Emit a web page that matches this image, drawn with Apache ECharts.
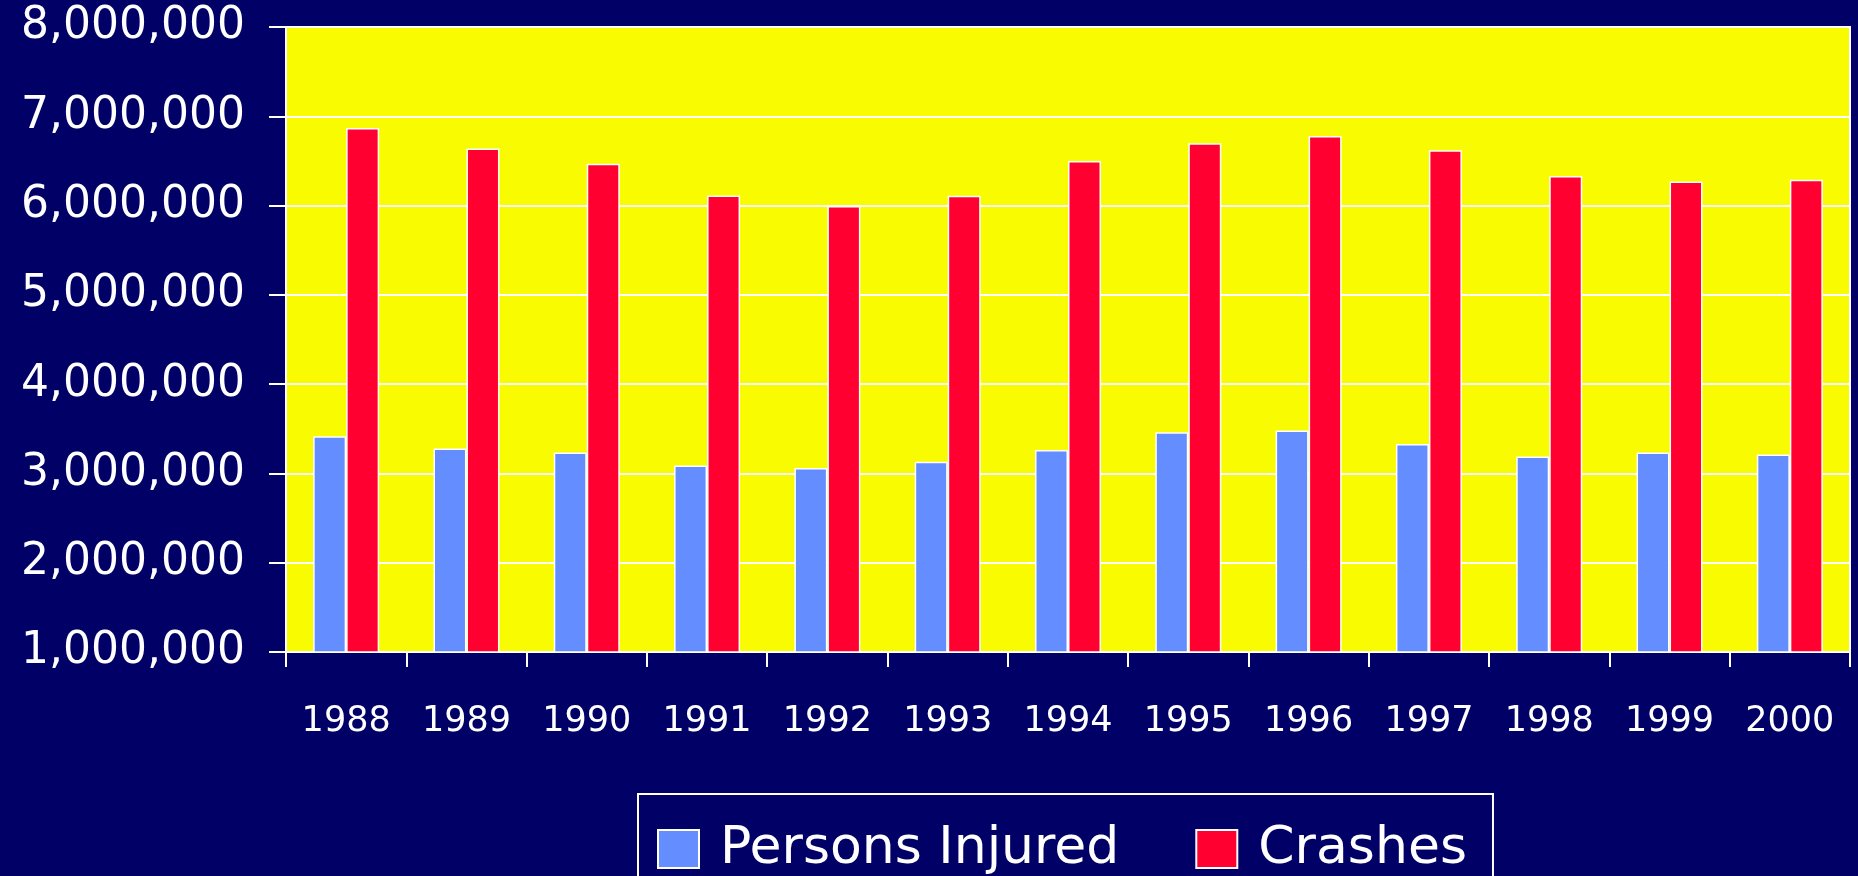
<!DOCTYPE html>
<html>
<head>
<meta charset="utf-8">
<title>Crashes and Persons Injured 1988-2000</title>
<script src="https://cdn.jsdelivr.net/npm/echarts@6/dist/echarts.min.js"></script>
<style>
    html, body { margin: 0; padding: 0; background: #000066; }
    #chart { width: 1858px; height: 876px; }
</style>
</head>
<body>
<div id="chart"></div>
<script>
// 年份
var years = ['1988', '1989', '1990', '1991', '1992', '1993', '1994', '1995', '1996', '1997', '1998', '1999', '2000'];
// 受伤人数
var injured = [3416000, 3280000, 3234000, 3088000, 3062000, 3130000, 3262000, 3462000, 3480000, 3330000, 3190000, 3234000, 3212000];
// 事故数
var crashes = [6868000, 6640000, 6468000, 6112000, 5995000, 6110000, 6498000, 6698000, 6778000, 6620000, 6330000, 6270000, 6290000];
var seriesNames = ['Persons Injured', 'Crashes'];
var yTicks = [1000000, 8000000, 1000000]; // min, max, interval

var font = 'DejaVu Sans';

function addCommas(v) {
    return String(v).replace(/\B(?=(\d{3})+(?!\d))/g, ',');
}

var chart = echarts.init(document.getElementById('chart'));

var option = {
    backgroundColor: '#000066',
    animation: false,
    grid: {
        left: 286,
        right: 8,
        top: 27,
        bottom: 224,
        show: true,
        backgroundColor: '#F9FB00',
        borderColor: '#ffffff',
        borderWidth: 2
    },
    legend: {
        data: seriesNames,
        left: 638,
        top: 794,
        orient: 'horizontal',
        icon: 'rect',
        itemWidth: 41,
        itemHeight: 38,
        itemGap: 76, // 原图 Persons Injured 字距较宽，用间距补齐
        padding: [29, 26, 60, 19],
        borderColor: '#ffffff',
        borderWidth: 2,
        textStyle: {
            color: '#ffffff',
            fontFamily: font,
            fontSize: 52,
            padding: [0, 0, 0, 16]
        }
    },
    xAxis: {
        type: 'category',
        data: years,
        axisLine: { lineStyle: { color: '#ffffff', width: 2 } },
        axisTick: { show: true, length: 15, lineStyle: { color: '#ffffff', width: 2 } },
        axisLabel: {
            color: '#ffffff',
            fontFamily: font,
            fontSize: 35,
            margin: 52
        }
    },
    yAxis: {
        type: 'value',
        min: yTicks[0],
        max: yTicks[1],
        interval: yTicks[2],
        axisLine: { show: true, lineStyle: { color: '#ffffff', width: 2 } },
        axisTick: { show: true, length: 17, lineStyle: { color: '#ffffff', width: 2 } },
        splitLine: { show: true, lineStyle: { color: '#ffffff', width: 2 } },
        axisLabel: {
            color: '#ffffff',
            fontFamily: font,
            fontSize: 44,
            margin: 41,
            formatter: function (v) { return addCommas(v); }
        }
    },
    series: [
        {
            name: seriesNames[0],
            type: 'bar',
            data: injured,
            barWidth: 33,
            barGap: '0%',
            itemStyle: { color: '#648EFF', borderColor: '#ffffff', borderWidth: 1.5 }
        },
        {
            name: seriesNames[1],
            type: 'bar',
            data: crashes,
            barWidth: 33,
            barGap: '0%',
            itemStyle: { color: '#FF0030', borderColor: '#ffffff', borderWidth: 1.5 }
        }
    ]
};

chart.setOption(option);
</script>
</body>
</html>
